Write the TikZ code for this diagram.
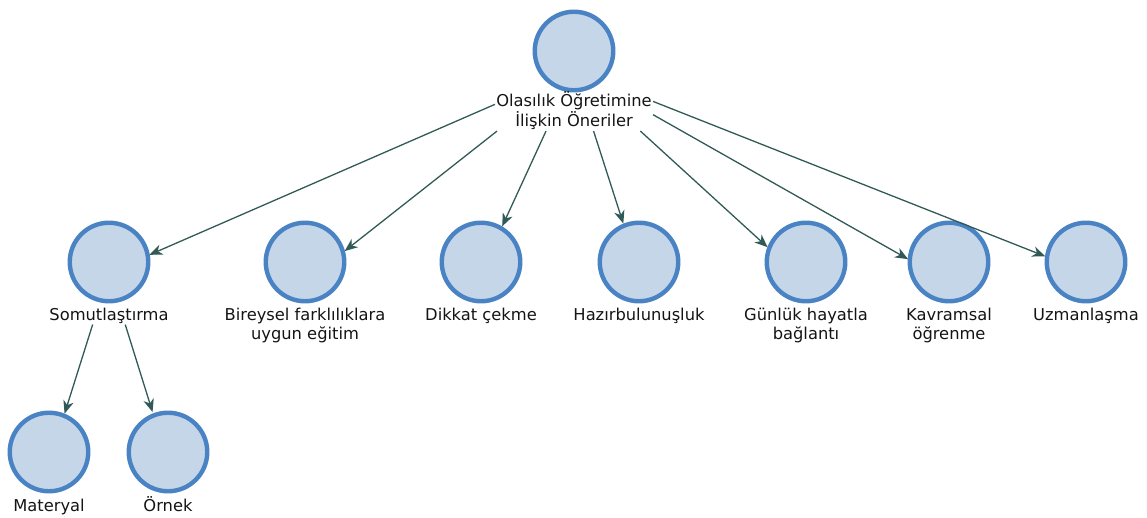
\documentclass[tikz,border=0pt]{standalone}
\usepackage{fontspec}
\setmainfont{DejaVu Sans}
\usetikzlibrary{arrows.meta,fit}
\definecolor{bubfill}{HTML}{C5D6E9}
\definecolor{bubline}{HTML}{4A83C3}
\definecolor{arrcol}{HTML}{315A56}
\definecolor{txtcol}{HTML}{141414}
\tikzset{
  bub/.style={circle, draw=bubline, fill=bubfill, line width=4.4pt, minimum size=78.5pt, inner sep=0pt},
  lbl/.style={font=\fontsize{16.3}{19.5}\selectfont, text=txtcol, align=center, inner sep=1pt, anchor=base},
  grp/.style={inner sep=0pt, draw=none},
  arr/.style={draw=arrcol, line width=1.3pt, -{Stealth[length=13pt,width=10.5pt,inset=4pt]}},
}
\begin{document}
\begin{tikzpicture}[x=1pt,y=-1pt]
\useasboundingbox (0,0) rectangle (1147,518);

% root (anchor=base sits on the last line of a two-line label)
\node[bub] (root) at (574,51) {};
\node[lbl] (root-l) at (574,126.5) {Olasılık Öğretimine\\İlişkin Öneriler};
\node[grp, fit=(root)(root-l)] (root-g) {};

% second level
\node[bub] (somut) at (109,262) {};
\node[lbl] (somut-l) at (109,320) {Somutlaştırma};
\node[grp, fit=(somut)(somut-l)] (somut-g) {};

\node[bub] (bireysel) at (305,262) {};
\node[lbl] (bireysel-l) at (305,339.5) {Bireysel farklılıklara\\uygun eğitim};
\node[grp, fit=(bireysel)(bireysel-l)] (bireysel-g) {};

\node[bub] (dikkat) at (481,262) {};
\node[lbl] (dikkat-l) at (481,320) {Dikkat çekme};
\node[grp, fit=(dikkat)(dikkat-l)] (dikkat-g) {};

\node[bub] (hazir) at (639,262) {};
\node[lbl] (hazir-l) at (639,320) {Hazırbulunuşluk};
\node[grp, fit=(hazir)(hazir-l)] (hazir-g) {};

\node[bub] (gunluk) at (806,262) {};
\node[lbl] (gunluk-l) at (806,339.5) {Günlük hayatla\\bağlantı};
\node[grp, fit=(gunluk)(gunluk-l)] (gunluk-g) {};

\node[bub] (kavram) at (949,262) {};
\node[lbl] (kavram-l) at (949,339.5) {Kavramsal\\öğrenme};
\node[grp, fit=(kavram)(kavram-l)] (kavram-g) {};

\node[bub] (uzman) at (1086,262) {};
\node[lbl] (uzman-l) at (1086,320) {Uzmanlaşma};
\node[grp, fit=(uzman)(uzman-l)] (uzman-g) {};

% third level
\node[bub] (materyal) at (49,452) {};
\node[lbl] (materyal-l) at (49,511) {Materyal};
\node[grp, fit=(materyal)(materyal-l)] (materyal-g) {};

\node[bub] (ornek) at (168,452) {};
\node[lbl] (ornek-l) at (168,511) {Örnek};
\node[grp, fit=(ornek)(ornek-l)] (ornek-g) {};

% connectors: group centre to group centre, tip stopping on the circle
\draw[arr, shorten >=44.1pt] (root-g) -- (somut-g.center);
\draw[arr, shorten >=50.5pt] (root-g) -- (bireysel-g.center);
\draw[arr, shorten >=50.7pt] (root-g) -- (dikkat-g.center);
\draw[arr, shorten >=51.3pt] (root-g) -- (hazir-g.center);
\draw[arr, shorten >=52.0pt] (root-g) -- (gunluk-g.center);
\draw[arr, shorten >=47.0pt] (root-g) -- (kavram-g.center);
\draw[arr, shorten >=43.7pt] (root-g) -- (uzman-g.center);
\draw[arr, shorten >=51.8pt] (somut-g) -- (materyal-g.center);
\draw[arr, shorten >=51.8pt] (somut-g) -- (ornek-g.center);
\end{tikzpicture}
\end{document}
